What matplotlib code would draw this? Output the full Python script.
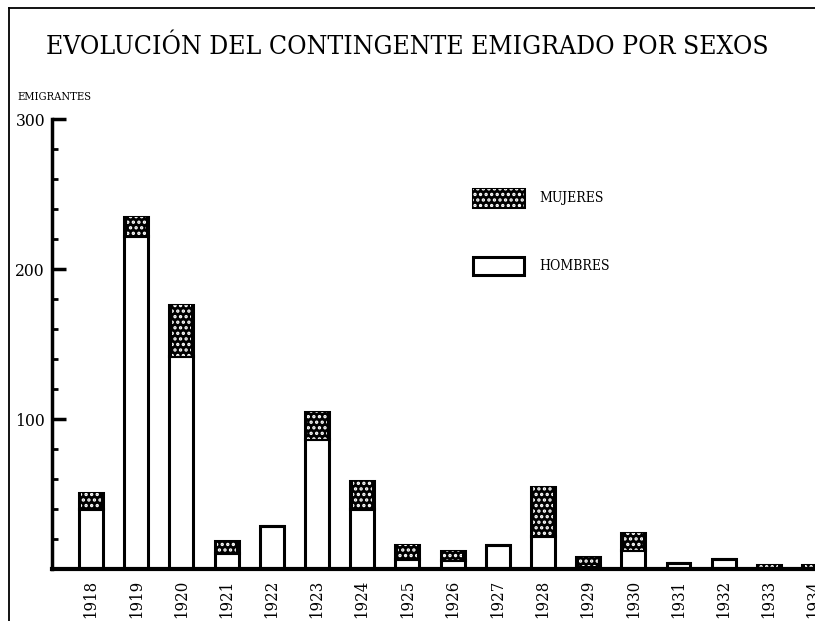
import matplotlib
matplotlib.use("Agg")
import matplotlib.pyplot as plt
from matplotlib.lines import Line2D
from matplotlib.patches import Patch
from matplotlib.ticker import FixedLocator, MultipleLocator

plt.rcParams['font.family'] = ['DejaVu Serif', 'Liberation Serif']
plt.rcParams['font.stretch'] = 'condensed'
plt.rcParams['hatch.linewidth'] = 1.6

# data
years = ['1918', '1919', '1920', '1921', '1922', '1923', '1924', '1925', '1926',
         '1927', '1928', '1929', '1930', '1931', '1932', '1933', '1934']
hombres = [40, 222, 142, 11, 29, 87, 40, 7, 6, 16, 22, 2, 13, 4, 7, 1, 0]
mujeres = [11, 13, 34, 8, 0, 18, 19, 9, 6, 0, 33, 6, 11, 0, 0, 2, 3]

x = list(range(len(years)))
w = 0.53

fig = plt.figure(figsize=(8.15, 6.21), dpi=100)
ax = fig.add_axes([52 / 815, 52 / 621, 763 / 815, 450 / 621])

# hombres: white bars
ax.bar(x, hombres, width=w, color='white', edgecolor='black', linewidth=2.2, zorder=2)
# mujeres: black bars with white speckles, stacked
ax.bar(x, mujeres, width=w, bottom=hombres, color='black', edgecolor='black', linewidth=2.2, zorder=2)
ax.bar(x, mujeres, width=w * 0.8, bottom=hombres, color='none', edgecolor='white',
       hatch='...', linewidth=0, zorder=3)

ax.set_xlim(-0.863, 16.02)
ax.set_ylim(0, 300)

for s in ['top', 'right']:
    ax.spines[s].set_visible(False)
ax.spines['left'].set_linewidth(2.5)
ax.spines['bottom'].set_linewidth(3)
ax.spines['bottom'].set_zorder(4)

ax.yaxis.set_major_locator(FixedLocator([100, 200, 300]))
ax.yaxis.set_minor_locator(MultipleLocator(20))
ax.tick_params(axis='y', which='major', direction='in', length=10, width=2.5,
               labelsize=12.5, pad=5)
ax.tick_params(axis='y', which='minor', direction='in', length=4, width=2)
ax.set_xticks(x)
ax.set_xticklabels(years, rotation=90, va='top', fontsize=12)
ax.tick_params(axis='x', length=0, pad=8)

fig.text(0.5, 1 - 46 / 621, 'EVOLUCIÓN DEL CONTINGENTE EMIGRADO POR SEXOS',
         ha='center', va='center', fontsize=19)
fig.text(17 / 815, 1 - 97 / 621, 'EMIGRANTES', ha='left', va='center', fontsize=8)

# legend
h_muj = (Patch(facecolor='black', edgecolor='black', linewidth=2.2),
         Patch(facecolor='none', edgecolor='white', hatch='...', linewidth=0))
h_hom = Patch(facecolor='white', edgecolor='black', linewidth=2.2)
fig.legend([h_muj, h_hom], ['MUJERES', 'HOMBRES'], loc='upper left',
           bbox_to_anchor=(473 / 815, 1 - 189 / 621), frameon=False,
           fontsize=10, borderpad=0, borderaxespad=0,
           handlelength=3.7, handleheight=1.6, handletextpad=1.1, labelspacing=3.6)

# frame lines of the page
fig.add_artist(Line2D([9 / 815, 9 / 815], [0, 1 - 8 / 621], color='black', linewidth=1.3))
fig.add_artist(Line2D([9 / 815, 1], [1 - 8 / 621, 1 - 8 / 621], color='black', linewidth=1.3))

fig.savefig('out.png')
